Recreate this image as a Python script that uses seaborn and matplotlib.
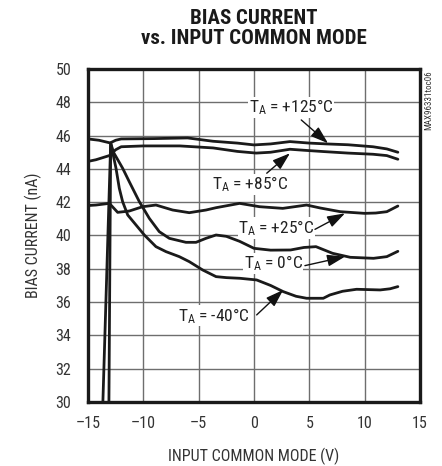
import matplotlib
matplotlib.use("Agg")
import matplotlib.pyplot as plt
from matplotlib import font_manager
import seaborn as sns
import pandas as pd

# ---------------- data ----------------
x_125 = [-15, -14, -13.0, -12.5, -12.0, -9.0, -6.0, -3.7, -1.5, 0.0, 1.5, 3.25, 5.0, 6.56, 8.5, 10.75, 12.0, 13.0]
y_125 = [45.8, 45.72, 45.56, 45.72, 45.8, 45.82, 45.86, 45.66, 45.55, 45.44, 45.5, 45.64, 45.55, 45.5, 45.45, 45.33, 45.2, 45.0]

x_85 = [-15, -14.28, -13.07, -12.5, -12.0, -10.0, -6.7, -3.7, -1.5, 0.2, 1.5, 3.25, 4.5, 6.3, 8.5, 10.75, 12.0, 13.0]
y_85 = [44.45, 44.55, 44.8, 45.15, 45.33, 45.38, 45.38, 45.26, 45.05, 44.95, 45.0, 45.18, 45.12, 45.04, 44.95, 44.88, 44.8, 44.58]

x_25 = [-15, -14.28, -13.07, -12.32, -11.27, -10.06, -8.86, -7.35, -5.85, -4.34, -3.43, -1.3, 0.5, 2.6, 4.75, 6.0, 7.8, 10.0, 11.0, 12.0, 13.0]
y_25 = [41.8, 41.83, 41.93, 41.39, 41.47, 41.73, 41.83, 41.53, 41.37, 41.53, 41.67, 41.93, 41.73, 41.63, 41.83, 41.65, 41.43, 41.33, 41.35, 41.43, 41.77]

x_0 = [-13.12, -12.95, -12.7, -11.87, -11.27, -10.36, -9.46, -8.56, -7.65, -6.15, -5.24, -4.34, -3.43, -2.5, -1.3, 0.0, 1.5, 3.3, 4.5, 5.6, 7.1, 8.7, 10.8, 12.0, 13.0]
y_0 = [29.0, 45.55, 45.0, 44.04, 43.23, 42.03, 41.03, 40.23, 39.83, 39.59, 39.59, 39.83, 40.03, 39.95, 39.65, 39.23, 39.12, 39.13, 39.28, 39.33, 38.93, 38.69, 38.63, 38.73, 39.05]

x_m40 = [-13.7, -12.95, -12.47, -12.17, -11.87, -11.41, -10.66, -9.91, -8.86, -7.95, -6.75, -5.85, -4.64, -3.43, -2.5, -1.27, 0.24, 1.5, 2.64, 3.8, 4.75, 6.26, 6.86, 8.0, 9.27, 11.4, 12.3, 13.0]
y_m40 = [29.0, 45.55, 44.04, 42.83, 42.03, 41.23, 40.63, 40.03, 39.33, 39.03, 38.73, 38.43, 37.93, 37.53, 37.47, 37.43, 37.33, 37.0, 36.63, 36.35, 36.23, 36.23, 36.43, 36.65, 36.77, 36.73, 36.8, 36.93]

x_ticks = [-15, -10, -5, 0, 5, 10, 15]
y_ticks = [30, 32, 34, 36, 38, 40, 42, 44, 46, 48, 50]

labels = ["T$_\\mathregular{A}$ = +125°C", "T$_\\mathregular{A}$ = +85°C", "T$_\\mathregular{A}$ = +25°C",
          "T$_\\mathregular{A}$ = 0°C", "T$_\\mathregular{A}$ = -40°C"]
label_xy = [(3.34, 47.69), (-0.36, 43.09), (2.03, 40.45), (1.72, 38.32), (-3.61, 35.17)]
arrow_from = [(4.27, 46.94), (1.15, 43.74), (5.51, 40.37), (4.6, 38.19), (0.24, 35.23)]
arrow_to = [(6.69, 45.54), (3.25, 44.94), (8.22, 41.33), (8.22, 38.73), (2.64, 36.73)]

# ---------------- style ----------------
sns.set_theme(style="white")
entries = font_manager.fontManager.ttflist
names = {f.name for f in entries}
fam, stretch = None, "normal"
if "Liberation Sans Narrow" in names:
    fam = "Liberation Sans Narrow"
else:
    for cand in ["Roboto Condensed", "Open Sans Condensed", "Noto Sans Condensed"]:
        if cand in names:
            fam = cand
            break
if fam is None:
    for cand in ["Noto Sans", "Open Sans", "Roboto", "DejaVu Sans", "Inter", "Lato"]:
        if any(f.name == cand and str(f.stretch) in ("condensed", "semi-condensed", "extra-condensed")
               for f in entries):
            fam, stretch = cand, "condensed"
            break
if fam is None:
    fam = "Roboto" if "Roboto" in names else "Liberation Sans"
plt.rcParams["font.family"] = [fam, "DejaVu Sans"]
plt.rcParams["font.stretch"] = stretch
plt.rcParams["mathtext.default"] = "regular"
narrow = (fam != "Roboto" and fam != "Liberation Sans")
fs = 11.5 if narrow else 10.5
lfs = 12.5 if narrow else 11

fig = plt.figure(figsize=(4.42, 4.66), dpi=100)
ax = fig.add_axes([88 / 442, 1 - 402 / 466, 332 / 442, 333 / 466])

series = [(x_125, y_125), (x_85, y_85), (x_25, y_25), (x_0, y_0), (x_m40, y_m40)]
for xs, ys in series:
    df = pd.DataFrame({"x": xs, "y": ys})
    sns.lineplot(data=df, x="x", y="y", ax=ax, sort=False, estimator=None,
                 color="#1a1a1a", lw=2.0, zorder=3)

ax.set_xlim(-15, 15)
ax.set_ylim(30, 50)
ax.set_xticks(x_ticks)
ax.set_yticks(y_ticks)
ax.set_xticklabels([str(v).replace("-", "\u2013") for v in x_ticks])
ax.set_yticklabels([str(v) for v in y_ticks])
ax.grid(True, color="#6e6e6e", lw=1.0)
ax.set_axisbelow(True)
for s in ax.spines.values():
    s.set_color("#1a1a1a")
    s.set_linewidth(2.4)
ax.tick_params(length=0, labelsize=fs, colors="#333333")
ax.tick_params(axis="y", pad=12)
ax.tick_params(axis="x", pad=10)
ax.set_xlabel("INPUT COMMON MODE (V)", fontsize=fs, color="#333333", labelpad=12)
ax.set_ylabel("BIAS CURRENT (nA)", fontsize=fs, color="#333333", labelpad=10)

for lab, (tx, ty), (fx, fy), (ex, ey) in zip(labels, label_xy, arrow_from, arrow_to):
    ax.text(tx, ty, lab, ha="center", va="center", fontsize=lfs, color="#222222", zorder=4,
            bbox=dict(facecolor="white", edgecolor="none", pad=0.5))
    ax.annotate("", xy=(ex, ey), xytext=(fx, fy),
                arrowprops=dict(arrowstyle="-|>,head_length=0.9,head_width=0.3",
                                color="#111111", lw=1.0, shrinkA=0, shrinkB=0),
                zorder=5)

fig.text(254 / 442, 1 - 9 / 466, "BIAS CURRENT\nvs. INPUT COMMON MODE", ha="center", va="top",
         fontsize=15 if narrow else 13, fontweight="heavy", color="#1a1a1a", linespacing=1.08)
fig.text(429 / 442, 1 - 70 / 466, "MAX96331toc06", rotation=90, ha="center", va="top",
         fontsize=6.5, color="#333333")

fig.savefig("out.png", dpi=100)
